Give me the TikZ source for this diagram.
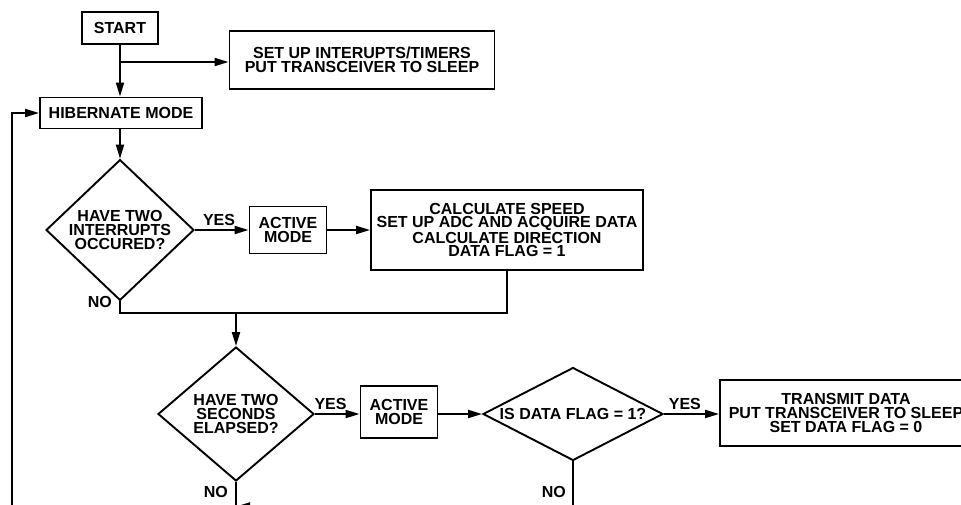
\documentclass[tikz,border=0pt]{standalone}
\usepackage{fontspec}
\setmainfont{Liberation Sans}
\usetikzlibrary{arrows.meta, shapes.geometric, positioning, calc}

\begin{document}
\begin{tikzpicture}[x=1pt, y=-1pt, >={Triangle[length=14pt,width=8pt]},
    procbox/.style={rectangle, draw, line width=1.9pt, align=center,
                    inner sep=2pt, font=\bfseries\fontsize{16}{13.6}\selectfont},
    decision/.style={diamond, draw, line width=1.9pt, align=center,
                     inner sep=0pt, font=\bfseries\fontsize{16}{13.6}\selectfont},
    arrow/.style={->, line width=1.9pt},
    link/.style={line width=1.9pt},
    lbl/.style={font=\bfseries\fontsize{16}{13.6}\selectfont, inner sep=1pt}]

    \useasboundingbox (0,0) rectangle (961,504);
    \clip (0,0) rectangle (961,504);

    % Top part
    \node[procbox, minimum width=76pt, minimum height=32pt] (start) at (120,28) {START};
    \node[procbox, minimum width=265pt, minimum height=58pt] (setup) at (362,60)
        {SET UP INTERUPTS/TIMERS\\PUT TRANSCEIVER TO SLEEP};
    \node[procbox, minimum width=162pt, minimum height=31pt] (hib) at (121,113) {HIBERNATE MODE};

    % First decision row
    \node[decision, minimum width=148pt, minimum height=130pt] (dia1) at (120,230)
        {HAVE TWO\\INTERRUPTS\\OCCURED?};
    \node[procbox, minimum width=77pt, minimum height=47pt] (act1) at (288,230) {ACTIVE\\MODE};
    \node[procbox, minimum width=272pt, minimum height=80pt] (calc) at (507,230)
        {CALCULATE SPEED\\SET UP ADC AND ACQUIRE DATA\\CALCULATE DIRECTION\\DATA FLAG = 1};

    % Second decision row
    \node[decision, minimum width=156pt, minimum height=134pt] (dia2) at (236,414)
        {HAVE TWO\\SECONDS\\ELAPSED?};
    \node[procbox, minimum width=77pt, minimum height=52pt] (act2) at (399,412) {ACTIVE\\MODE};
    \node[decision, shape aspect=2.2, minimum width=180pt, minimum height=93pt] (dia3) at (573,414)
        {IS DATA FLAG = 1?};
    \node[procbox, minimum width=252pt, minimum height=66pt] (trans) at (846,413)
        {TRANSMIT DATA\\PUT TRANSCEIVER TO SLEEP\\SET DATA FLAG = 0};

    % Junctions
    \coordinate (j0) at (120,62);
    \coordinate (j1) at (236,313);
    \coordinate (fb) at (12,530);
    \coordinate (bot) at (0,530);
    \coordinate (ret) at (0,506.5);

    % Connectors
    \draw[arrow] (start) -- (start |- hib.north);
    \draw[arrow] (j0) -- (j0 -| setup.west);
    \draw[arrow] (fb) |- (hib.west);
    \draw[arrow] (hib.south -| dia1) -- (dia1.north);
    \draw[arrow] (dia1.east) -- (act1.west) node[lbl, pos=0.45, above=2pt] {YES};
    \draw[arrow] (act1) -- (calc);
    \draw[link] (dia1.south) -- (dia1.south |- j1) -- (j1 -| calc.south) -- (calc.south);
    \draw[arrow] (j1) -- (dia2.north);
    \draw[arrow] (dia2.east) -- (dia2.east -| act2.west) node[lbl, pos=0.35, above=2pt] {YES};
    \draw[arrow] (act2.east |- dia3) -- (dia3.west);
    \draw[arrow] (dia3.east) -- (dia3.east -| trans.west) node[lbl, pos=0.38, above=2pt] {YES};
    \draw[link] (dia2.south) -- (dia2.south |- bot);
    \draw[link] (dia3.south) -- (dia3.south |- bot);
    \draw[arrow] (dia3.south |- ret) -- (dia2.south |- ret);

    % NO labels
    \node[lbl, anchor=east] (no1) at (113,302) {NO};
    \node[lbl, anchor=east] (no2) at (229,492) {NO};
    \node[lbl, anchor=east] (no3) at (567,492) {NO};

\end{tikzpicture}
\end{document}
